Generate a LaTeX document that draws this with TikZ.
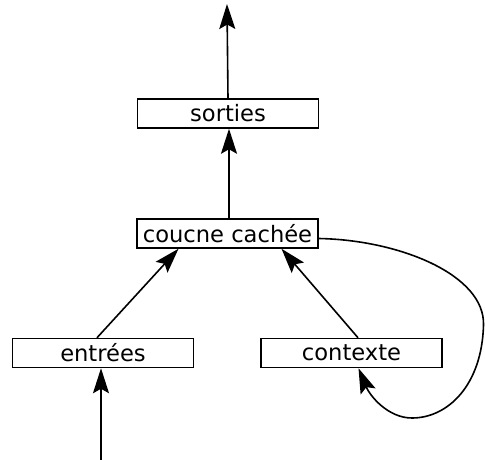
\documentclass[tikz,border=0pt]{standalone}
\usepackage{fontspec}
\setmainfont{DejaVu Sans}
\usetikzlibrary{arrows.meta}
\begin{document}
\begin{tikzpicture}[x=1pt,y=-1pt,
  layer/.style={draw,line width=1.5pt,minimum width=181pt,minimum height=29pt,inner sep=0pt,
    font=\fontsize{22.6}{26}\selectfont},
  conn/.style={line width=1.6pt,-{Stealth[length=25pt,width=16pt,inset=4.5pt]}}]
\useasboundingbox (0,0) rectangle (485,460);
\node[layer] (out) at (228,113.5) {sorties};
\node[layer] (hid) at (227.5,233.5) {coucne cachée};
\node[layer] (in) at (103,353) {entrées};
\node[layer] (ctx) at (351.5,353) {contexte};
\coordinate (top) at (227,4);
\coordinate (bot) at (101,461);
\coordinate (right) at (483.5,325);
\coordinate (low) at (412,418);
\draw[conn] (out.north) -- (top);
\draw[conn] ([xshift=1.5pt]hid.north) -- ([xshift=1pt]out.south);
\draw[conn] (bot) -- ([xshift=-2pt]in.south);
\draw[conn] ([xshift=-6pt]in.north) -- ([xshift=-49pt]hid.south);
\draw[conn] ([xshift=6.5pt]ctx.north) -- ([xshift=54pt]hid.south);
\draw[conn] ([yshift=-5pt]hid.east) .. controls (400,240) and (485,275) .. (right)
  .. controls (482,385) and (448,418) .. (low)
  .. controls (388,418) and (370,396) .. ([xshift=7pt]ctx.south);
\end{tikzpicture}
\end{document}
